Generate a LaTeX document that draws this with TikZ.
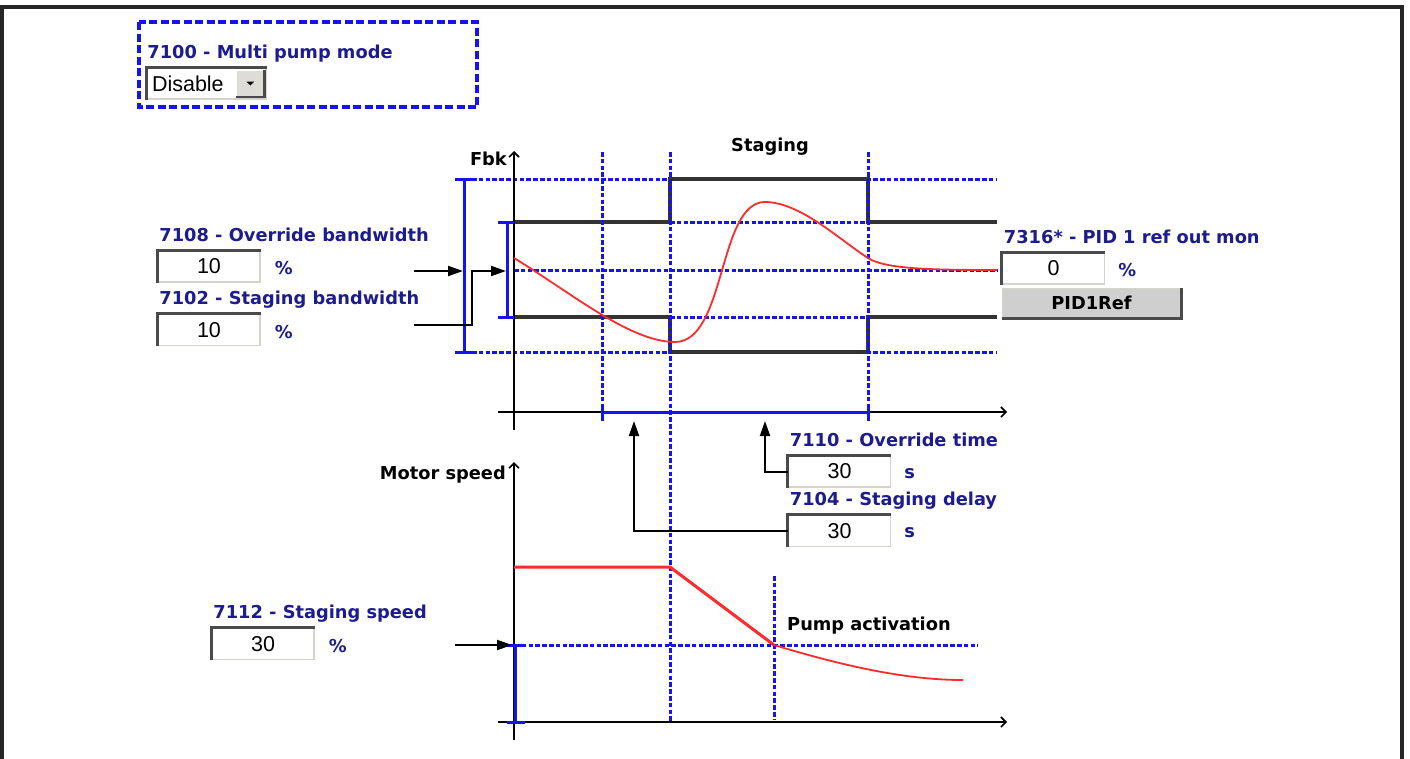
\documentclass[tikz,border=0pt]{standalone}
\usepackage{fontspec}
\setmainfont{DejaVu Sans}
\newfontfamily\valfont{Liberation Sans}
\usetikzlibrary{positioning, arrows.meta, calc}
\definecolor{lblblue}{HTML}{1C1C8E}
\definecolor{dblue}{HTML}{1414F2}
\definecolor{curve}{HTML}{FF2A2A}
\definecolor{edgehi}{HTML}{D6D3CC}
\definecolor{edgelo}{HTML}{4A4A4A}
\definecolor{btnface}{HTML}{CFCFCF}
\definecolor{band}{HTML}{333333}

\begin{document}
\begin{tikzpicture}[x=1pt, y=-1pt,
    lbl/.style={font=\fontsize{17.8}{20}\selectfont\bfseries, text=lblblue, inner sep=0pt},
    ttl/.style={lbl, text=black},
    field/.style={fill=white, draw=edgehi, line width=1.5pt, minimum width=102pt, minimum height=31pt, inner sep=0pt, font=\valfont\fontsize{21.5}{24}\selectfont},
    btn/.style={fill=btnface, draw=edgehi, line width=1.5pt, minimum width=178pt, minimum height=29pt, inner sep=0pt, font=\fontsize{17.8}{20}\selectfont\bfseries},
    ddbtn/.style={fill=edgehi!80!white, draw=white, line width=1pt, minimum width=28pt, minimum height=26pt, inner sep=0pt},
    sunk/.style={draw=edgelo, line width=2.8pt},
    raised/.style={draw=edgelo, line width=2.8pt},
    dashbox/.style={draw=dblue, line width=3.2pt, dash pattern=on 8pt off 3.5pt},
    blued/.style={draw=dblue, line width=3pt, dash pattern=on 4.5pt off 2.3pt},
    bluebar/.style={draw=dblue, line width=3pt},
    bandline/.style={draw=band, line width=3.2pt},
    axis/.style={draw=black, line width=1.6pt, -{Straight Barb[length=5pt, width=10pt]}},
    arr/.style={draw=black, line width=2pt, -{Triangle[length=15pt, width=10pt]}},
]
\useasboundingbox (0,0) rectangle (1410,758);
\draw[line width=3.2pt, draw=black!85] (2,770) |- (1402,7) -- (1402,770);

% multi pump mode
\draw[dashbox] (139,22) rectangle (477,107);
\node[field, minimum width=119pt, text width=109pt, align=left] (dd) at (206.5,83.5) {Disable};
\node[lbl, above=9pt of dd.north west, anchor=base west, xshift=1pt] (mpm) {7100 - Multi pump mode};
\node[ddbtn, anchor=east] (ddb) at ([xshift=-2pt]dd.east) {};
\fill (ddb.center) ++(-4,-2) -- ++(8,0) -- ++(-4,4) -- cycle;

% Fbk chart
\draw[blued] (472,179) -- (997,179);
\draw[blued] (472,352) -- (997,352);
\draw[blued] (514,270) -- (997,270);
\draw[blued] (670,222) -- (868,222);
\draw[blued] (670,317) -- (868,317);
\draw[bandline] (514,222) -| (670,179) -| (868,222) -- (997,222);
\draw[bandline] (514,317) -| (670,352) -| (868,317) -- (997,317);
\foreach \x/\y in {602/420, 670/722, 868/420}
    \draw[blued] (\x,152) -- (\x,\y);
\draw[axis] (514,430) -- (514,151);
\draw[axis] (498,412) -- (1007,412);
\draw[bluebar] (455,179) -- (473,179) (464,179) -- (464,352) (455,352) -- (473,352);
\draw[bluebar] (498,222) -- (514,222) (507,222) -- (507,317) (498,317) -- (514,317);
\draw[bluebar] (602,412) -- (868,412) (602,404) -- (602,421) (868,404) -- (868,421);
\draw[curve, line width=1.8pt] (514,258) .. controls (570,292) and (630,342) .. (675,342)
    .. controls (726,342) and (718,202) .. (765,202)
    .. controls (800,202) and (840,240) .. (868,258)
    .. controls (885,269) and (930,270) .. (997,270);
\node[ttl, anchor=base east] (fbk) at (507,165) {Fbk};
\node[ttl, anchor=base] (stg) at (770,151) {Staging};

% motor speed chart
\draw[blued] (515,645) -- (978,645);
\draw[blued] (774,576) -- (774,720);
\draw[axis] (514,740) -- (514,462);
\draw[axis] (498,722) -- (1007,722);
\draw[bluebar] (507,645) -- (525,645) (515,645) -- (515,722) (507,722) -- (525,722);
\draw[curve, line width=3pt] (514,567) -- (670,567) -- (774,645);
\draw[curve, line width=1.8pt] (774,645) .. controls (850,668) and (910,680) .. (963,680);
\node[ttl, anchor=base east] (msp) at (506,479) {Motor speed};
\node[ttl, anchor=base west] (pact) at (787,630) {Pump activation};

% parameters
\node[field] (ob) at (209,266.5) {10};
\node[lbl, above=9pt of ob.north west, anchor=base west, xshift=2pt] (obl) {7108 - Override bandwidth};
\node[lbl, right=14pt of ob, yshift=-2pt] (obu) {\%};
\node[field] (sb) at (209,330) {10};
\node[lbl, above=9pt of sb.north west, anchor=base west, xshift=2pt] (sbl) {7102 - Staging bandwidth};
\node[lbl, right=14pt of sb, yshift=-2pt] (sbu) {\%};
\node[field] (pid) at (1053.5,268.5) {0};
\node[lbl, above=9pt of pid.north west, anchor=base west, xshift=2pt] (pidl) {7316* - PID 1 ref out mon};
\node[lbl, right=13pt of pid, yshift=-2pt] (pidu) {\%};
\node[btn, below=3pt of pid.south west, anchor=north west] (pidb) {PID1Ref};
\node[field] (ot) at (839.5,471.5) {30};
\node[lbl, above=9pt of ot.north west, anchor=base west, xshift=2pt] (otl) {7110 - Override time};
\node[lbl, right=13pt of ot, yshift=-2pt] (otu) {s};
\node[field] (sd) at (839.5,531) {30};
\node[lbl, above=9pt of sd.north west, anchor=base west, xshift=2pt] (sdl) {7104 - Staging delay};
\node[lbl, right=13pt of sd, yshift=-2pt] (sdu) {s};
\node[field] (ss) at (263,644) {30};
\node[lbl, above=9pt of ss.north west, anchor=base west, xshift=2pt] (ssl) {7112 - Staging speed};
\node[lbl, right=14pt of ss, yshift=-2pt] (ssu) {\%};
\foreach \f in {dd,ob,sb,pid,ot,sd,ss}
    \draw[sunk] (\f.south west) |- (\f.north east);
\foreach \f in {ddb,pidb}
    \draw[raised] (\f.south west) -| (\f.north east);

% connectors
\coordinate (obin) at (414,271);
\coordinate (obar) at (463,271);
\coordinate (sbin) at (414,325);
\coordinate (sbar) at (506,271);
\coordinate (dly) at (634,421);
\coordinate (ovr) at (765,421);
\coordinate (ssin) at (455,645);
\coordinate (ssbar) at (512,645);
\draw[arr] (obin) -- (obar);
\draw[arr] (sbin) -- ++(58,0) |- (sbar);
\draw[arr] (sd.west) -| (dly);
\draw[arr] (ot.west) -| (ovr);
\draw[arr] (ssin) -- (ssbar);
\end{tikzpicture}
\end{document}
